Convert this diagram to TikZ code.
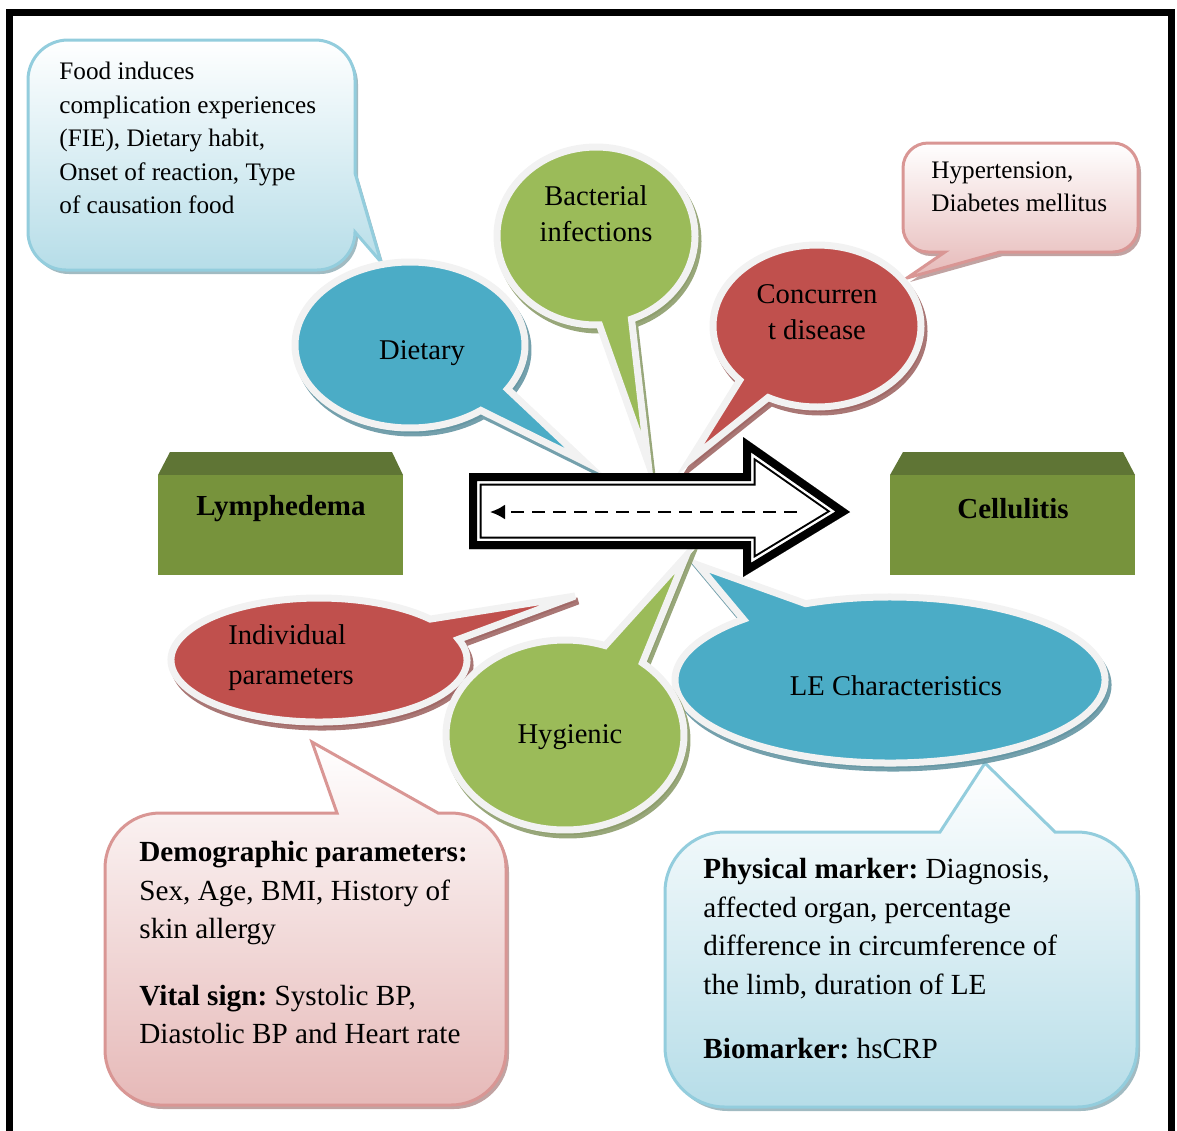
\documentclass[tikz,border=0pt]{standalone}
\usepackage{fontspec}
\setmainfont{Liberation Serif}
\usetikzlibrary{arrows.meta,shadows}
\frenchspacing

\definecolor{bblue}{HTML}{4BACC6}
\definecolor{bgreen}{HTML}{9BBB59}
\definecolor{bred}{HTML}{C0504D}
\definecolor{rimgray}{HTML}{F2F2F2}
\definecolor{olivefront}{HTML}{77933C}
\definecolor{olivetop}{HTML}{5F7535}
\definecolor{callblueline}{HTML}{93CDDD}
\definecolor{callbluebot}{HTML}{B6DDE8}
\definecolor{callpinkline}{HTML}{D99694}
\definecolor{callpinkbot}{HTML}{E6B9B8}

\tikzset{
  bubble/.style={fill=#1, draw=rimgray, line width=3.5pt, line join=miter,
    drop shadow={shadow xshift=1.5pt, shadow yshift=-2.5pt, opacity=0.9,
      fill=#1!50!gray, draw=#1!50!gray, line width=3.5pt}},
  callblue/.style={top color=white, bottom color=callbluebot, draw=callblueline,
    line width=1.5pt, drop shadow={shadow xshift=1.5pt, shadow yshift=-2pt,
      opacity=0.8, fill=callblueline!55!gray}},
  callpink/.style={top color=white, bottom color=callpinkbot, draw=callpinkline,
    line width=1.5pt, drop shadow={shadow xshift=1.5pt, shadow yshift=-2pt,
      opacity=0.8, fill=callpinkline!55!gray}},
  smalltxt/.style={font=\fontsize{12.6}{16.75}\selectfont, align=left, inner sep=0pt, anchor=north west},
  bigtxt/.style={font=\fontsize{14.6}{19.25}\selectfont, align=left, inner sep=0pt, anchor=north west},
  bubtxt/.style={font=\fontsize{14.3}{18}\selectfont, align=center, inner sep=0pt},
  boxtxt/.style={font=\fontsize{14.5}{17}\selectfont\bfseries, inner sep=0pt},
  dasharr/.style={line width=1.2pt, dash pattern=on 6.5pt off 4pt, -{Latex[length=7.5pt,width=7.5pt]}}
}

\begin{document}
\begin{tikzpicture}[x=0.5pt,y=-0.5pt]
\useasboundingbox (0,0) rectangle (1177,1130);
% frame
\draw[line width=3.5pt, line join=miter] (9.5,1140) -- (9.5,12) -- (1171,12) -- (1171,1140);

% callouts
\draw[callblue] (68,40) -- (315,40) arc[start angle=270,end angle=360,radius=40]
  -- (355,173) -- (381,262) -- (355,232) arc[start angle=0,end angle=90,radius=38]
  -- (66,270) arc[start angle=90,end angle=180,radius=38]
  -- (28,80) arc[start angle=180,end angle=270,radius=40] -- cycle;
\draw[callpink] (928,143) -- (1113,143) arc[start angle=270,end angle=360,radius=25]
  -- (1138,227) arc[start angle=0,end angle=90,radius=25]
  -- (1000,252) -- (907,278) -- (945,252)
  -- (928,252) arc[start angle=90,end angle=180,radius=25]
  -- (903,168) arc[start angle=180,end angle=270,radius=25] -- cycle;
\draw[callpink] (160,813) -- (337,813) -- (312,742) -- (438,813)
  -- (451,813) arc[start angle=270,end angle=360,radius=55]
  -- (506,1050) arc[start angle=0,end angle=90,radius=55]
  -- (160,1105) arc[start angle=90,end angle=180,radius=55]
  -- (105,868) arc[start angle=180,end angle=270,radius=55] -- cycle;
\draw[callblue] (725,832) -- (940,832) -- (985,763) -- (1055,832)
  -- (1077,832) arc[start angle=270,end angle=360,radius=60]
  -- (1137,1047) arc[start angle=0,end angle=90,radius=60]
  -- (725,1107) arc[start angle=90,end angle=180,radius=60]
  -- (665,892) arc[start angle=180,end angle=270,radius=60] -- cycle;

% green boxes
\fill[olivetop] (158,475) -- (170,452) -- (392,452) -- (403,475) -- cycle;
\fill[olivefront] (158,475) rectangle (403,575);
\fill[olivetop] (890,475) -- (903,452) -- (1123,452) -- (1135,475) -- cycle;
\fill[olivefront] (890,475) rectangle (1135,575);

% speech bubbles
\foreach \cx/\cy/\rx/\ry/\sa/\ea/\tx/\ty/\col in {
  410/345/115/83/52/392/585/462/bblue,
  596/236/99/89/88/429/648/462/bgreen,
  817/326/104/81/138/478/690/460/bred,
  319/660/148/62/340.5/678.7/575/596/bred,
  890/680/215/83/246.9/587/698/565/bblue,
  565/735/119/95/310.6/649.7/686/556/bgreen}
{
  \draw[bubble=\col] ({\cx+\rx*cos(\sa)},{\cy+\ry*sin(\sa)})
    arc[start angle=\sa, end angle=\ea, x radius=\rx, y radius=\ry]
    -- (\tx,\ty) -- cycle;
}

% big arrow
\begin{scope}
\clip (469,473) -- (743,473) -- (743,437) -- (850,512) -- (743,577) -- (743,549) -- (469,549) -- cycle;
\fill[white] (469,473) -- (743,473) -- (743,437) -- (850,512) -- (743,577) -- (743,549) -- (469,549) -- cycle;
\foreach \w/\c in {12.5pt/black, 10.5pt/white, 8pt/black}
  \draw[\c, line width=\w, line join=miter] (469,473) -- (743,473) -- (743,437) -- (850,512)
    -- (743,577) -- (743,549) -- (469,549) -- cycle;
\end{scope}
\coordinate (dashR) at (797,512);
\coordinate (dashL) at (490,512);
\draw[dasharr] (dashR) -- (dashL);

% texts
\node[smalltxt] (foodT) at (59,62) {Food induces\\complication experiences\\(FIE), Dietary habit,\\Onset of reaction, Type\\of causation food};
\node[smalltxt] (hyperT) at (931,161) {Hypertension,\\Diabetes mellitus};
\node[bigtxt] (demoT) at (139,841) {\textbf{Demographic parameters:}\\Sex, Age, BMI, History of\\skin allergy\\[14pt]\textbf{Vital sign:} Systolic BP,\\Diastolic BP and Heart rate};
\node[bigtxt] (physT) at (703,858) {\textbf{Physical marker:} Diagnosis,\\affected organ, percentage\\difference in circumference of\\the limb, duration of LE\\[13pt]\textbf{Biomarker:} hsCRP};
\node[bubtxt] (dietT) at (422,353) {Dietary};
\node[bubtxt] (bactT) at (596,214) {Bacterial\\infections};
\node[bubtxt] (concT) at (817,312) {Concurren\\t disease};
\node[bubtxt, align=left, anchor=west, font=\fontsize{14.3}{20}\selectfont] (indT) at (228,658) {Individual\\parameters};
\node[bubtxt] (hygT) at (570,737) {Hygienic};
\node[bubtxt] (leT) at (896,686) {LE Characteristics};
\node[boxtxt] (lymphT) at (281,509) {Lymphedema};
\node[boxtxt] (cellT) at (1013,509) {Cellulitis};
\end{tikzpicture}
\end{document}
